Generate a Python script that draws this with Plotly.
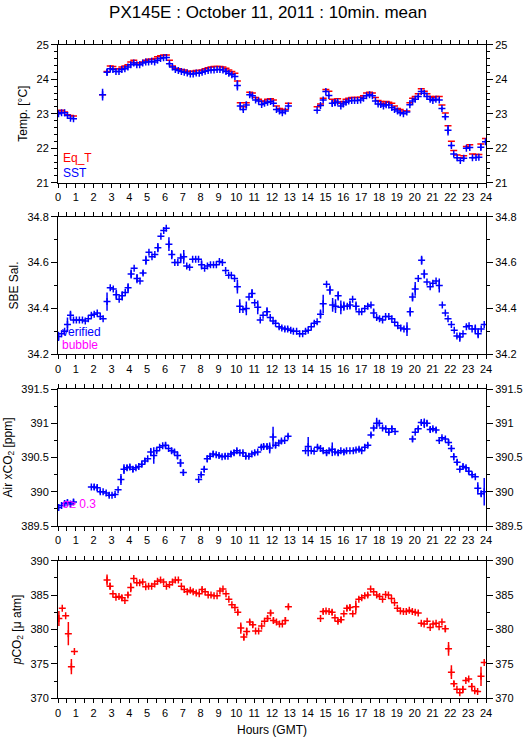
import plotly.graph_objects as go

# ---------------- data ----------------
# Panel 1: SST (blue) and Eq_T (red), 10-min means
sst_t = [0.03, 0.2, 0.37, 0.53, 0.7, 0.87,
         2.5, 2.75, 2.93, 3.08, 3.25, 3.42, 3.58, 3.75, 3.92, 4.08, 4.25, 4.42, 4.58, 4.75, 4.92,
         5.08, 5.25, 5.42, 5.58, 5.75, 5.92, 6.08, 6.25, 6.42, 6.58, 6.75, 6.92, 7.08, 7.25, 7.42,
         7.58, 7.75, 7.92, 8.08, 8.25, 8.42, 8.58, 8.75, 8.92, 9.08, 9.25, 9.42, 9.58, 9.75, 9.92,
         10.06, 10.22, 10.39, 10.56, 10.75, 10.9, 11.08, 11.25, 11.42, 11.58, 11.75, 11.92, 12.08,
         12.25, 12.42, 12.58, 12.75, 12.92,
         14.53, 14.72, 14.87, 15.02, 15.19, 15.38, 15.53, 15.68, 15.86, 16.0, 16.15, 16.3, 16.47,
         16.63, 16.8, 16.97, 17.13, 17.3, 17.47, 17.63, 17.8, 17.95, 18.1, 18.25, 18.4, 18.55, 18.72,
         18.87, 19.04, 19.19, 19.37, 19.56, 19.73, 19.88, 20.03, 20.2, 20.37, 20.54, 20.69, 20.87,
         21.02, 21.19, 21.38, 21.53, 21.72, 21.87, 22.06, 22.19, 22.38, 22.56, 22.75, 22.9, 23.09,
         23.24, 23.44, 23.6, 23.71, 23.97]
sst_v = [23.00, 23.03, 23.03, 22.95, 22.87, 22.85,
         23.55, 24.20, 24.30, 24.28, 24.22, 24.22, 24.28, 24.30, 24.35, 24.42, 24.47, 24.42, 24.42, 24.47, 24.50,
         24.50, 24.52, 24.50, 24.55, 24.60, 24.62, 24.63, 24.45, 24.35, 24.28, 24.25, 24.22, 24.20, 24.18, 24.15,
         24.15, 24.18, 24.17, 24.20, 24.23, 24.25, 24.27, 24.27, 24.28, 24.28, 24.27, 24.22, 24.17, 24.13, 24.08,
         23.82, 23.22, 23.12, 23.25, 23.55, 23.52, 23.40, 23.37, 23.27, 23.30, 23.33, 23.35, 23.30,
         23.12, 23.08, 23.03, 23.08, 23.22,
         23.10, 23.24, 23.40, 23.64, 23.53, 23.30, 23.32, 23.34, 23.22, 23.28, 23.33, 23.37, 23.38,
         23.38, 23.38, 23.40, 23.45, 23.52, 23.55, 23.52, 23.37, 23.28, 23.27, 23.22, 23.26, 23.25, 23.18,
         23.12, 23.08, 23.03, 23.00, 23.05, 23.26, 23.37, 23.42, 23.50, 23.64, 23.59, 23.50, 23.42,
         23.38, 23.42, 23.40, 23.15, 22.91, 22.52, 22.08, 21.83, 21.72, 21.64, 21.71, 22.00, 22.02,
         21.72, 21.73, 21.74, 22.03, 22.19]
sst_e = [0, 0, 0, 0, 0, 0,
         0.17, 0.10, 0, 0, 0, 0, 0, 0, 0, 0, 0, 0, 0, 0, 0,
         0, 0, 0, 0, 0, 0, 0, 0.05, 0, 0, 0, 0, 0, 0, 0,
         0, 0, 0, 0, 0, 0, 0, 0, 0, 0, 0, 0, 0, 0, 0,
         0.15, 0.12, 0.05, 0.10, 0.05, 0.05, 0, 0, 0.04, 0, 0.04, 0.04, 0,
         0, 0, 0, 0, 0.03,
         0, 0.04, 0.04, 0, 0.03, 0.10, 0.10, 0.05, 0, 0, 0, 0, 0,
         0, 0, 0, 0, 0, 0, 0, 0, 0, 0, 0, 0, 0, 0,
         0, 0, 0, 0, 0, 0.04, 0, 0, 0.04, 0, 0, 0, 0,
         0, 0, 0, 0.04, 0.07, 0.15, 0.05, 0, 0.03, 0, 0.05, 0.03, 0,
         0.03, 0, 0, 0.10, 0]
eqt_v = [23.05, 23.10, 23.05, 22.97, 22.95, 22.93,
         23.55, 24.22, 24.38, 24.37, 24.30, 24.30, 24.35, 24.38, 24.42, 24.50, 24.55, 24.48, 24.48, 24.50, 24.55,
         24.58, 24.58, 24.60, 24.65, 24.68, 24.70, 24.70, 24.55, 24.38, 24.32, 24.30, 24.28, 24.27, 24.23, 24.22,
         24.23, 24.25, 24.25, 24.27, 24.30, 24.33, 24.35, 24.37, 24.37, 24.37, 24.35, 24.32, 24.27, 24.22, 24.17,
         23.95, 23.32, 23.20, 23.32, 23.62, 23.60, 23.47, 23.42, 23.35, 23.37, 23.42, 23.43, 23.40,
         23.22, 23.15, 23.12, 23.12, 23.30,
         23.20, 23.28, 23.45, 23.70, 23.65, 23.42, 23.37, 23.43, 23.30, 23.35, 23.42, 23.45, 23.47,
         23.47, 23.47, 23.48, 23.52, 23.60, 23.62, 23.60, 23.47, 23.38, 23.35, 23.30, 23.35, 23.33, 23.30,
         23.22, 23.15, 23.12, 23.08, 23.08, 23.32, 23.45, 23.50, 23.58, 23.72, 23.65, 23.58, 23.50,
         23.47, 23.50, 23.50, 23.25, 23.02, 22.65, 22.20, 21.93, 21.80, 21.72, 21.78, 22.05, 22.10,
         21.83, 21.82, 21.82, 22.12, 22.28]

# Panel 2: SBE salinity
sal_t = [0.03, 0.2, 0.37, 0.53, 0.7, 0.87, 1.03, 1.2, 1.37, 1.53, 1.7, 1.87, 2.03, 2.2, 2.37, 2.53,
         2.75, 2.93, 3.1, 3.27, 3.43, 3.6, 3.77, 3.93, 4.1, 4.27, 4.43, 4.6, 4.77, 4.93, 5.1, 5.27,
         5.43, 5.6, 5.77, 5.93, 6.07, 6.22, 6.38, 6.55, 6.72, 6.88, 7.05, 7.22, 7.38, 7.55, 7.72,
         7.88, 8.05, 8.22, 8.38, 8.55, 8.72, 8.88, 9.05, 9.22, 9.4, 9.57, 9.72, 9.9, 10.06, 10.19,
         10.37, 10.56, 10.71, 10.88, 11.03, 11.2, 11.34, 11.5, 11.72, 11.9, 12.06, 12.2, 12.4, 12.55,
         12.72, 12.88, 13.05, 13.2, 13.38, 13.55, 13.72, 13.88, 14.03, 14.2, 14.37, 14.53, 14.72,
         14.87, 15.06, 15.25, 15.4, 15.56, 15.71, 15.86, 16.03, 16.22, 16.37, 16.52, 16.71, 16.88,
         17.03, 17.2, 17.37, 17.55, 17.7, 17.87, 18.03, 18.2, 18.37, 18.55, 18.72, 18.88, 19.05,
         19.22, 19.4, 19.57, 19.75, 19.88, 20.03, 20.2, 20.39, 20.54, 20.69, 20.87, 21.02, 21.2,
         21.38, 21.55, 21.72, 21.87, 22.06, 22.22, 22.37, 22.53, 22.71, 22.9, 23.05, 23.22, 23.4,
         23.56, 23.73, 23.9]
sal_v = [34.278, 34.29, 34.30, 34.33, 34.37, 34.35, 34.35, 34.35, 34.35, 34.345, 34.355, 34.37, 34.375,
         34.38, 34.365, 34.355,
         34.43, 34.49, 34.485, 34.46, 34.44, 34.455, 34.47, 34.49, 34.55, 34.575, 34.53, 34.52, 34.555,
         34.61, 34.645, 34.625, 34.635, 34.665, 34.715, 34.74, 34.75, 34.68, 34.635, 34.60, 34.60,
         34.62, 34.625, 34.585, 34.58, 34.615, 34.615, 34.615, 34.59, 34.575, 34.585, 34.59, 34.59,
         34.59, 34.605, 34.60, 34.565, 34.545, 34.545, 34.53, 34.495, 34.41, 34.395, 34.40, 34.45,
         34.465, 34.425, 34.405, 34.35, 34.37, 34.385, 34.36, 34.345, 34.335, 34.32, 34.315, 34.31,
         34.31, 34.305, 34.30, 34.30, 34.29, 34.29, 34.30, 34.305, 34.32, 34.335, 34.342, 34.375,
         34.42, 34.505, 34.48, 34.415, 34.41, 34.455, 34.405, 34.41, 34.41, 34.415, 34.44, 34.41,
         34.385, 34.385, 34.40, 34.41, 34.415, 34.38, 34.36, 34.355, 34.35, 34.365, 34.365, 34.355,
         34.34, 34.325, 34.315, 34.31, 34.31, 34.385, 34.45, 34.485, 34.53, 34.61, 34.55, 34.515,
         34.495, 34.51, 34.52, 34.50, 34.415, 34.38, 34.355, 34.33, 34.305, 34.28, 34.275, 34.29,
         34.32, 34.325, 34.31, 34.31, 34.29, 34.31, 34.33]
sal_e = [0.02, 0, 0, 0.03, 0.02, 0, 0, 0, 0, 0, 0, 0, 0, 0, 0, 0,
         0.04, 0, 0, 0.02, 0, 0.02, 0, 0.02, 0.02, 0, 0.02, 0, 0.01, 0.02, 0, 0,
         0, 0.02, 0, 0, 0, 0.03, 0.02, 0, 0, 0.02, 0.03, 0, 0, 0, 0,
         0, 0.02, 0, 0, 0, 0, 0, 0, 0, 0, 0, 0, 0, 0.03, 0.03,
         0, 0.03, 0, 0.02, 0, 0.03, 0, 0, 0.02, 0, 0, 0, 0, 0,
         0.01, 0.01, 0, 0, 0, 0, 0, 0, 0, 0, 0, 0, 0.02,
         0.04, 0, 0.02, 0.03, 0.03, 0.02, 0.03, 0.02, 0, 0.02, 0, 0.02, 0,
         0, 0, 0, 0, 0.02, 0, 0, 0, 0, 0, 0, 0,
         0, 0, 0, 0.03, 0.02, 0.02, 0.03, 0, 0.02, 0.02, 0, 0, 0,
         0, 0.03, 0, 0, 0, 0, 0, 0, 0.02, 0, 0, 0, 0,
         0.02, 0.02, 0]

# Panel 3: Air xCO2
xco2_t = [0.03, 0.2, 0.37, 0.53, 0.7, 0.87,
          1.87, 2.03, 2.2, 2.37, 2.53, 2.7, 2.87, 3.03, 3.2, 3.37, 3.53, 3.7, 3.87, 4.03, 4.2, 4.37,
          4.53, 4.7, 4.87, 5.03, 5.2, 5.37, 5.53, 5.7, 5.87, 6.03, 6.2, 6.37, 6.53, 6.7, 6.87, 7.03,
          7.89, 8.03, 8.2, 8.37, 8.53, 8.7, 8.87, 9.03, 9.2, 9.37, 9.53, 9.7, 9.87, 10.03, 10.2,
          10.37, 10.53, 10.7, 10.87, 11.03, 11.2, 11.4, 11.53, 11.72, 11.87, 12.06, 12.2, 12.38,
          12.53, 12.71, 12.9,
          13.88, 14.03, 14.2, 14.36, 14.55, 14.72, 14.87, 15.06, 15.2, 15.38, 15.53, 15.71, 15.86,
          16.03, 16.18, 16.37, 16.56, 16.71, 16.88, 17.03, 17.2, 17.37, 17.55, 17.7, 17.87, 18.02,
          18.2, 18.38, 18.55, 18.72, 18.9,
          19.88, 20.03, 20.2, 20.37, 20.54, 20.69, 20.87, 21.02, 21.2, 21.38, 21.53, 21.72, 21.9,
          22.06, 22.19, 22.38, 22.53, 22.71, 22.88, 23.03, 23.22, 23.4, 23.54, 23.73, 23.9]
xco2_v = [389.77, 389.80, 389.83, 389.84, 389.82, 389.85,
          390.07, 390.07, 390.06, 390.00, 390.00, 389.98, 389.95, 389.95, 389.96, 390.03, 390.18, 390.33,
          390.35, 390.36, 390.33, 390.35, 390.37, 390.40, 390.45, 390.48, 390.58, 390.53, 390.60, 390.65,
          390.67, 390.68, 390.63, 390.60, 390.58, 390.53, 390.42, 390.28,
          390.18, 390.25, 390.33, 390.48, 390.52, 390.55, 390.54, 390.53, 390.51, 390.52, 390.52, 390.55,
          390.57, 390.60, 390.57, 390.57, 390.52, 390.52, 390.55, 390.57, 390.58, 390.65, 390.66, 390.66,
          390.64, 390.80, 390.68, 390.71, 390.74, 390.75, 390.81,
          390.60, 390.66, 390.60, 390.59, 390.65, 390.63, 390.60, 390.57, 390.60, 390.62, 390.58, 390.57,
          390.60, 390.58, 390.60, 390.60, 390.60, 390.61, 390.62, 390.60, 390.65, 390.68, 390.83, 390.93,
          391.00, 391.00, 390.93, 390.92, 390.87, 390.92, 390.88,
          390.77, 390.87, 390.92, 391.01, 391.00, 391.00, 390.91, 390.92, 390.90, 390.75, 390.79, 390.77,
          390.72, 390.63, 390.51, 390.43, 390.33, 390.37, 390.35, 390.30, 390.25, 390.22, 390.05, 389.97,
          390.00]
xco2_e = [0.05, 0, 0.04, 0.05, 0.04, 0.04,
          0, 0.04, 0.05, 0.03, 0, 0, 0.03, 0, 0.02, 0, 0.08, 0.07, 0.04, 0.04, 0.04, 0, 0,
          0.03, 0.03, 0, 0.06, 0.12, 0.04, 0, 0, 0.04, 0, 0.04, 0.04, 0.06, 0.06, 0.04,
          0, 0.03, 0.04, 0.05, 0.04, 0.04, 0, 0.03, 0, 0.04, 0, 0.04, 0.04, 0.03, 0,
          0.03, 0.04, 0.03, 0, 0.03, 0, 0.03, 0.04, 0.04, 0.08, 0.15, 0.04, 0, 0.03, 0, 0.03,
          0, 0.14, 0, 0, 0.03, 0, 0.03, 0.04, 0, 0.10, 0.03, 0.04, 0,
          0.04, 0, 0, 0, 0, 0.03, 0, 0.03, 0.03, 0.03, 0.03, 0.08, 0.04,
          0, 0.02, 0.03, 0.04, 0,
          0.04, 0, 0.03, 0.03, 0.07, 0.04, 0.04, 0.03, 0.04, 0.02, 0.02, 0, 0.04,
          0.03, 0.05, 0.04, 0.02, 0.03, 0.03, 0.04, 0.03, 0, 0.09, 0.04, 0.20]

# Panel 4: pCO2
pco2_t = [0.05, 0.24, 0.43, 0.58, 0.75, 0.92,
          2.75, 2.92, 3.08, 3.25, 3.42, 3.58, 3.75, 3.92, 4.08, 4.25, 4.42, 4.58, 4.75, 4.92, 5.08,
          5.25, 5.42, 5.58, 5.75, 5.92, 6.08, 6.25, 6.42, 6.58, 6.75, 6.92, 7.08, 7.25, 7.42, 7.58,
          7.75, 7.92, 8.08, 8.25, 8.42, 8.58, 8.75, 8.92, 9.08, 9.25, 9.42, 9.58, 9.75, 9.92, 10.08,
          10.25, 10.42, 10.58, 10.75, 10.92, 11.08, 11.25, 11.42, 11.58, 11.75, 11.92, 12.08, 12.25,
          12.42, 12.58, 12.75, 12.92,
          14.72, 14.87, 15.03, 15.2, 15.37, 15.53, 15.7, 15.87, 16.03, 16.2, 16.37, 16.53, 16.7,
          16.87, 17.03, 17.2, 17.37, 17.53, 17.7, 17.87, 18.03, 18.2, 18.37, 18.53, 18.7, 18.87,
          19.03, 19.2, 19.37, 19.53, 19.7, 19.87, 20.03, 20.2, 20.37, 20.53, 20.7, 20.87, 21.03,
          21.2, 21.37, 21.53, 21.72, 21.9, 22.06, 22.2, 22.37, 22.53, 22.7, 22.87, 23.03, 23.2,
          23.37, 23.53, 23.72, 23.9]
pco2_v = [381.6, 383.1, 382.0, 379.4, 374.6, 376.8,
          387.2, 386.3, 385.2, 384.7, 384.8, 384.6, 384.2, 385.0, 386.1, 387.4, 386.8, 386.8, 386.9,
          386.2, 386.3, 386.3, 386.6, 387.0, 387.2, 386.9, 386.3, 386.5, 386.9, 387.2, 387.2, 386.3,
          385.8, 385.5, 385.7, 385.5, 385.3, 385.2, 385.8, 385.5, 385.0, 385.0, 384.9, 384.9, 385.6,
          385.9, 385.2, 384.4, 383.6, 383.2, 382.5, 380.2, 378.9, 379.7, 381.1, 380.7, 379.8, 379.8,
          380.5, 381.2, 381.6, 382.4, 381.3, 381.1, 380.8, 380.8, 381.3, 383.3,
          381.6, 382.6, 382.7, 382.6, 382.5, 381.7, 381.2, 381.4, 382.3, 383.1, 383.2, 382.3, 383.3,
          384.4, 384.6, 384.9, 385.0, 385.9, 385.5, 385.0, 384.8, 384.4, 385.1, 385.0, 384.5, 383.9,
          383.1, 382.7, 382.6, 382.6, 382.8, 382.6, 382.5, 382.4, 380.9, 380.8, 381.2, 380.3, 380.8,
          380.9, 380.4, 381.1, 380.1, 377.2, 373.8, 372.1, 371.3, 370.8, 371.3, 372.6, 372.8, 371.7,
          371.1, 371.0, 373.2, 375.2]
pco2_e = [1.1, 0, 0, 1.7, 1.1, 0,
          0.8, 0.5, 0, 0, 0, 0.4, 0, 0.4, 0.7, 0, 0, 0, 0, 0, 0,
          0, 0, 0, 0, 0, 0, 0, 0, 0, 0, 0, 0, 0, 0, 0,
          0, 0, 0.3, 0, 0, 0, 0, 0, 0, 0, 0, 0, 0, 0, 0.4,
          0.8, 0.5, 0.6, 0.3, 0.4, 0, 0, 0, 0, 0.4, 0.4, 0.4, 0,
          0, 0, 0.5, 0.3,
          0, 0.3, 0, 0, 0.4, 0, 0.3, 0.4, 0, 0.4, 0.4, 0, 0.9,
          0, 0, 0, 0.3, 0, 0, 0, 0, 0, 0, 0, 0, 0,
          0, 0, 0, 0, 0, 0, 0, 0, 0, 0, 0, 0, 0,
          0, 0, 0, 0.5, 1.0, 1.0, 0.4, 0, 0, 0.5, 0, 0, 0.5,
          0, 0, 1.4, 0]

hour_ticks = list(range(0, 25))
panel_ranges = [(21, 25), (34.2, 34.8), (389.5, 391.5), (370, 390)]
panel_major = [1, 0.2, 0.5, 5]
panel_minor = [0.2, 0.1, 0.25, 2.5]
panel_titles = ["Temp. [°C]", "SBE Sal.", "Air xCO<sub>2</sub> [ppm]", "<i>p</i>CO<sub>2</sub> [μ atm]"]

# ---------------- layout geometry ----------------
W, H = 529, 739
ML, MR, MT, MB = 58, 43, 44, 40
PH = H - MT - MB
PW = W - ML - MR
panel_px = [(44.7, 182.7), (216.7, 354.3), (389.0, 526.0), (560.7, 698.3)]


def ydom(top, bot):
    return [(H - MB - bot) / PH, (H - MB - top) / PH]


def xp(px):
    return (px - ML) / PW


def yp(py):
    return (H - MB - py) / PH


FONT = "Liberation Sans, Arial, Helvetica, sans-serif"
BLUE = "#0000ff"
RED = "#ff0000"
MAG = "#ff00ff"

fig = go.Figure()


def plus_trace(t, v, e, color, i):
    return go.Scatter(
        x=t, y=v, mode="markers", xaxis=f"x{i}", yaxis=f"y{i}",
        marker=dict(symbol="cross-thin", size=5, color=color, line=dict(width=1.5, color=color)),
        error_y=dict(type="data", array=e, visible=True, color=color, thickness=1.5, width=0),
        showlegend=False, hoverinfo="skip")


# Panel 1
fig.add_trace(go.Scatter(
    x=sst_t, y=eqt_v, mode="markers", xaxis="x1", yaxis="y1",
    marker=dict(symbol="line-ew", size=5, color=RED, line=dict(width=1.5, color=RED)),
    showlegend=False, hoverinfo="skip"))
fig.add_trace(plus_trace(sst_t, sst_v, sst_e, BLUE, 1))
# Panel 2
fig.add_trace(plus_trace(sal_t, sal_v, sal_e, BLUE, 2))
# Panel 3
fig.add_trace(plus_trace(xco2_t, xco2_v, xco2_e, BLUE, 3))
# Panel 4
fig.add_trace(plus_trace(pco2_t, pco2_v, pco2_e, RED, 4))

# dummy traces for right-hand axes
for i in range(1, 5):
    fig.add_trace(go.Scatter(x=[None], y=[None], xaxis=f"x{i}", yaxis=f"y{i+4}",
                             mode="markers", showlegend=False, hoverinfo="skip"))

layout = dict(
    width=W, height=H,
    margin=dict(l=ML, r=MR, t=MT, b=MB, autoexpand=False),
    paper_bgcolor="white", plot_bgcolor="white",
    font=dict(family=FONT, size=11, color="black"),
    showlegend=False,
    title=dict(text="PX145E : October 11, 2011 : 10min. mean", x=268 / W, xref="container",
               y=1 - 12 / H, yref="container", xanchor="center", yanchor="middle",
               font=dict(size=17, family=FONT, color="black")),
)

for i in range(1, 5):
    top, bot = panel_px[i - 1]
    lo, hi = panel_ranges[i - 1]
    layout[f"xaxis{i}"] = dict(
        domain=[0, 1], anchor=f"y{i}", range=[0, 24], tickmode="array", tickvals=hour_ticks,
        ticktext=[str(h) for h in hour_ticks], ticks="outside", ticklen=4, tickwidth=1,
        tickcolor="black", minor=dict(dtick=0.5, tick0=0, ticks="outside", ticklen=4,
                                      tickcolor="black", tickwidth=1),
        showline=True, linecolor="black", linewidth=1, mirror="ticks", showgrid=False,
        zeroline=False, tickfont=dict(size=11, family=FONT), fixedrange=True, automargin=False)
    layout[f"yaxis{i}"] = dict(
        domain=ydom(top, bot), anchor=f"x{i}", range=[lo, hi], dtick=panel_major[i - 1], tick0=lo,
        ticks="outside", ticklen=6, tickwidth=1, tickcolor="black",
        minor=dict(dtick=panel_minor[i - 1], tick0=lo, ticks="outside", ticklen=3,
                   tickcolor="black", tickwidth=1),
        showline=True, linecolor="black", linewidth=1, mirror=True, showgrid=False,
        zeroline=False, tickfont=dict(size=11, family=FONT),
        title=dict(text=panel_titles[i - 1], font=dict(size=12, family=FONT), standoff=6),
        fixedrange=True, automargin=False)
    layout[f"yaxis{i+4}"] = dict(
        overlaying=f"y{i}", anchor=f"x{i}", side="right", range=[lo, hi], dtick=panel_major[i - 1],
        tick0=lo, ticks="outside", ticklen=6, tickwidth=1, tickcolor="black",
        minor=dict(dtick=panel_minor[i - 1], tick0=lo, ticks="outside", ticklen=3,
                   tickcolor="black", tickwidth=1),
        showline=True, linecolor="black", linewidth=1, showgrid=False, zeroline=False,
        tickfont=dict(size=11, family=FONT), fixedrange=True, automargin=False)

fig.update_layout(**layout)

annots = [
    ("Eq_T", 61, 158, RED),
    ("SST", 61, 172.5, BLUE),
    ("verified", 60, 332, BLUE),
    ("bubble", 60, 345, MAG),
    ("σ≥ 0.3", 60, 504, MAG),
]
for txt, px, py, col in annots:
    fig.add_annotation(text=txt, x=xp(px), y=yp(py), xref="paper", yref="paper",
                       xanchor="left", yanchor="middle", showarrow=False,
                       font=dict(size=12, family=FONT, color=col))
fig.add_annotation(text="Hours (GMT)", x=xp(272), y=yp(730), xref="paper", yref="paper",
                   xanchor="center", yanchor="middle", showarrow=False,
                   font=dict(size=12, family=FONT, color="black"))

# remove the default page margin so the figure sits at the window's top-left corner
fig.write_html("out.html", config={"displayModeBar": False},
               post_script="document.body.style.margin='0';document.body.style.overflow='hidden';")
